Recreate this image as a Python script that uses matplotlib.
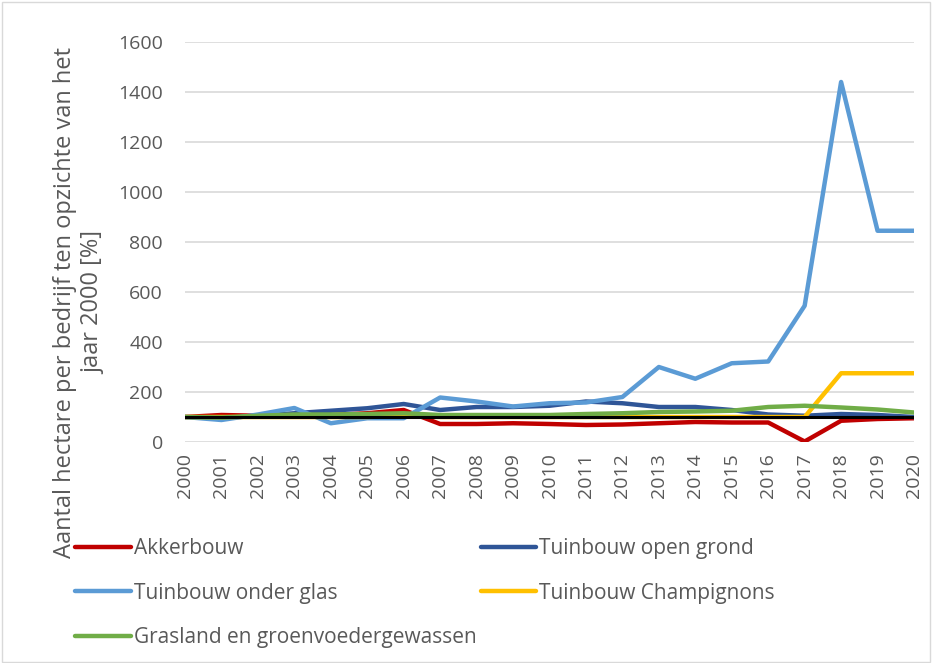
import matplotlib
matplotlib.use("Agg")
import matplotlib.pyplot as plt
from matplotlib.patches import Rectangle

years = list(range(2000, 2021))
year_labels = [str(y) for y in years]

akkerbouw = [100, 108, 105, 105, 108, 115, 128, 72, 72, 75, 72, 68, 70, 75, 80, 78, 78, 2, 85, 92, 95]
open_grond = [100, 95, 105, 115, 125, 135, 152, 128, 140, 140, 145, 162, 155, 140, 140, 128, 110, 105, 112, 108, 100]
onder_glas = [100, 88, 110, 136, 75, 95, 95, 178, 162, 142, 155, 158, 180, 300, 253, 315, 322, 545, 1440, 845, 845]
champignons = [100, 100, 100, 100, 100, 100, 104, 100, 100, 100, 100, 100, 100, 100, 100, 100, 100, 100, 275, 275, 275]
grasland = [100, 98, 105, 110, 110, 112, 115, 108, 108, 108, 108, 112, 115, 120, 122, 125, 140, 145, 138, 130, 118]
referentie = [100] * 21

series = [
    ("Akkerbouw", akkerbouw, "#c00000"),
    ("Tuinbouw open grond", open_grond, "#2f5597"),
    ("Tuinbouw onder glas", onder_glas, "#5b9bd5"),
    ("Tuinbouw Champignons", champignons, "#ffc000"),
    ("Grasland en groenvoedergewassen", grasland, "#70ad47"),
]

yticks = [0, 200, 400, 600, 800, 1000, 1200, 1400, 1600]
ylabel = "Aantal hectare per bedrijf ten opzichte van het\njaar 2000 [%]"

plt.rcParams['font.family'] = ['Open Sans', 'DejaVu Sans']

fig = plt.figure(figsize=(9.32, 6.63), dpi=100)
ax = fig.add_axes([185 / 932, 221 / 663, 729 / 932, 400 / 663])

lines = {}
for name, vals, col in series:
    ln, = ax.plot(years, vals, color=col, lw=3.2, solid_capstyle='round', solid_joinstyle='round', label=name, zorder=3)
    lines[name] = ln
ax.plot(years, referentie, color="black", lw=2.2, zorder=4)

ax.set_xlim(2000, 2020)
ax.set_ylim(0, 1600)
ax.set_yticks(yticks)
ax.set_yticklabels([str(t) for t in yticks])
ax.set_xticks(years)
ax.set_xticklabels(year_labels, rotation=90)
ax.tick_params(axis='both', length=0, labelsize=14, labelcolor="#595959")
ax.tick_params(axis='y', pad=16)
ax.tick_params(axis='x', pad=8)
ax.grid(axis='y', color="#d9d9d9", lw=1.2, zorder=0)
for s in ax.spines.values():
    s.set_visible(False)
ax.set_axisbelow(True)
ax.set_ylabel(ylabel, fontsize=17, color="#595959")
ax.yaxis.set_label_coords(-0.11, 0.35)

# row-major order in a 2-column legend (matplotlib fills column-major)
order = ["Akkerbouw", "Tuinbouw onder glas", "Grasland en groenvoedergewassen",
         "Tuinbouw open grond", "Tuinbouw Champignons"]
leg = fig.legend(handles=[lines[n] for n in order], loc='upper left', bbox_to_anchor=(0.081, 0.188), ncol=2,
                 frameon=False, fontsize=15, handlelength=2.65, handletextpad=0.15,
                 columnspacing=0.2, labelspacing=1.12, borderaxespad=0, borderpad=0)
for t in leg.get_texts():
    t.set_color("#595959")

fig.add_artist(Rectangle((0.002, 0.002), 0.996, 0.995, transform=fig.transFigure,
                         fill=False, edgecolor="#d9d9d9", lw=1))

fig.savefig("out.png", dpi=100)
